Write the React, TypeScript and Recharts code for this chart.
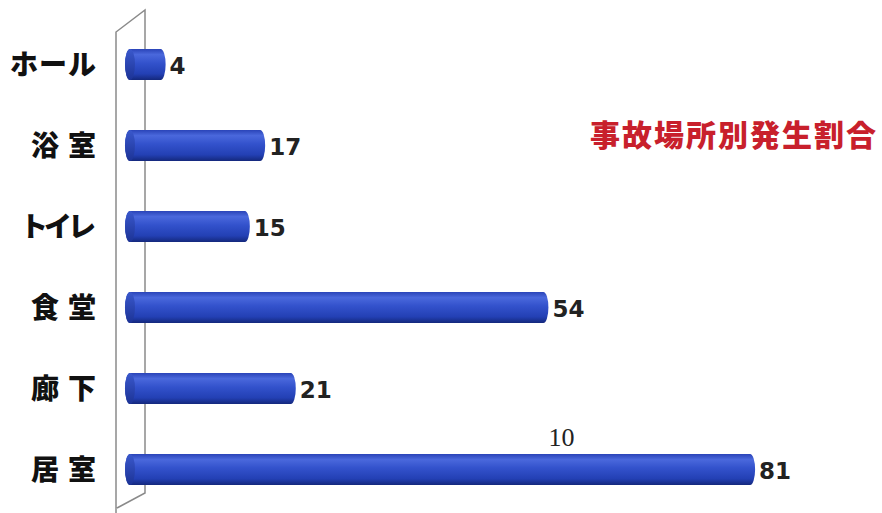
import { BarChart, Bar, XAxis, YAxis, LabelList } from "recharts";

const categories = ["ホール", "浴室", "トイレ", "食堂", "廊下", "居室"];
const counts = [4, 17, 15, 54, 21, 81];
const notes = ["", "", "", "", "", "10"];

const title = "事故場所別発生割合";

const data = categories.map((name, i) => ({
  name,
  value: counts[i],
  note: notes[i],
}));

// cylinder-looking bar, like the 3D office chart
function Cylinder(props: any) {
  const { x, y, width, height } = props;
  if (width <= 0) return null;
  const rx = 5;
  const ry = height / 2;
  const cy = y + ry;
  const body = `M${x},${y} L${x + width},${y} A${rx},${ry} 0 0 1 ${x + width},${y + height} L${x},${y + height} A${rx},${ry} 0 0 1 ${x},${y} Z`;
  return (
    <g>
      <path d={body} fill="url(#cyl)" />
      <ellipse cx={x} cy={cy} rx={rx} ry={ry} fill="url(#cap)" />
    </g>
  );
}

function CategoryTick(props: any) {
  const { x, y, payload } = props;
  const label: string = payload.value;
  // two-kanji labels are spread out in the original
  const spacing = label.length === 2 ? 9 : label === "トイレ" ? -4 : 1;
  return (
    <text
      x={x - 26 + spacing}
      y={y}
      dy={10}
      textAnchor="end"
      fontSize={28}
      fontWeight={900}
      fontFamily="Noto Sans CJK JP"
      letterSpacing={spacing}
      fill="#111"
    >
      {label}
    </text>
  );
}

function ValueLabel(props: any) {
  const { x, y, width, height, value } = props;
  return (
    <text
      x={x + width + 9}
      y={y + height / 2}
      dy={9}
      fontSize={23}
      fontWeight={700}
      fontFamily="DejaVu Sans"
      fill="#222"
    >
      {value}
    </text>
  );
}

function NoteLabel(props: any) {
  const { x, y, width, value } = props;
  if (!value) return null;
  return (
    <text
      x={x + width * 0.696}
      y={y - 8}
      textAnchor="middle"
      fontSize={26}
      fontFamily="Liberation Serif"
      fill="#222"
    >
      {value}
    </text>
  );
}

export default function App() {
  return (
    <div style={{ position: "absolute", left: 0, top: 0, width: 882, height: 513, background: "#fff" }}>
      {/* back wall of the 3D axis */}
      <svg width={882} height={513} style={{ position: "absolute", left: 0, top: 0 }}>
        <polyline
          points="116,513 116,32 145,10 145,493 117,508"
          fill="none"
          stroke="#8a8a8a"
          strokeWidth={1.5}
        />
        <text
          x={590}
          y={146}
          fontSize={30}
          fontWeight={900}
          fontFamily="Noto Sans CJK JP"
          letterSpacing={2}
          fill="#c8202c"
        >
          {title}
        </text>
      </svg>
      <div style={{ position: "absolute", left: 0, top: 0 }}>
        <BarChart
          layout="vertical"
          width={882}
          height={513}
          data={data}
          margin={{ top: 24, right: 63, bottom: 3, left: 0 }}
          barSize={31}
        >
          <defs>
            <linearGradient id="cyl" x1="0" y1="0" x2="0" y2="1">
              <stop offset="0%" stopColor="#2a44b8" />
              <stop offset="18%" stopColor="#4a68dc" />
              <stop offset="45%" stopColor="#3352cc" />
              <stop offset="80%" stopColor="#2340b4" />
              <stop offset="100%" stopColor="#14287c" />
            </linearGradient>
            <linearGradient id="cap" x1="0" y1="0" x2="0" y2="1">
              <stop offset="0%" stopColor="#3a58cc" />
              <stop offset="100%" stopColor="#1c3396" />
            </linearGradient>
          </defs>
          <XAxis type="number" hide domain={[0, 90]} />
          <YAxis
            type="category"
            dataKey="name"
            width={130}
            axisLine={false}
            tickLine={false}
            interval={0}
            tick={<CategoryTick />}
          />
          <Bar dataKey="value" shape={<Cylinder />} isAnimationActive={false}>
            <LabelList dataKey="value" content={<ValueLabel />} />
            <LabelList dataKey="note" content={<NoteLabel />} />
          </Bar>
        </BarChart>
      </div>
    </div>
  );
}
